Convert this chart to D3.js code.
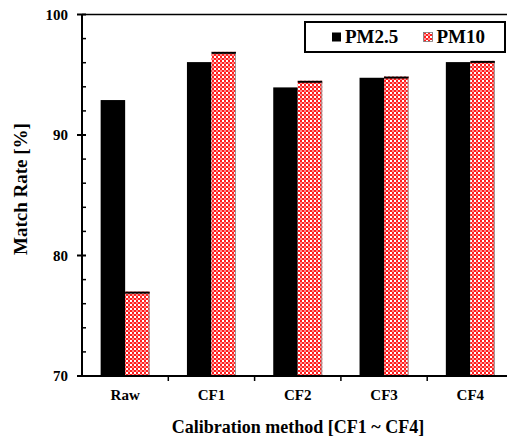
<!DOCTYPE html>
<html lang="en">
<head>
<meta charset="utf-8">
<title>Match Rate by Calibration method</title>
<script src="https://d3js.org/d3.v7.min.js"></script>
<style>
  body { margin: 0; background: #fff; }
  svg { display: block; }
  text { font-family: "Liberation Serif", "Times New Roman", serif; font-weight: bold; fill: #000; }
</style>
</head>
<body>
<script>
// categories and series values
var categories = ["Raw", "CF1", "CF2", "CF3", "CF4"];
var seriesNames = ["PM2.5", "PM10"];
var pm25 = [92.9, 96.05, 93.95, 94.75, 96.05];
var pm10 = [77.0, 96.9, 94.5, 94.85, 96.15];
var yMajorTicks = [70, 80, 90, 100];
var yMinorTicks = [72, 74, 76, 78, 82, 84, 86, 88, 92, 94, 96, 98];

var width = 507, height = 441;
// plot box (right edge runs past the picture, as in the original)
var plotLeft = 82, plotTop = 14.5, plotBottom = 376, plotRight = 513.5;

var svg = d3.select("body").append("svg")
    .attr("width", width)
    .attr("height", height);

// checker pattern for PM10 bars
var defs = svg.append("defs");
var pat = defs.append("pattern")
    .attr("id", "checker")
    .attr("width", 4).attr("height", 4)
    .attr("patternUnits", "userSpaceOnUse");
pat.append("rect").attr("width", 4).attr("height", 4).attr("fill", "#ff1e1e");
pat.append("rect").attr("x", 2).attr("y", 0).attr("width", 2).attr("height", 2).attr("fill", "#ffffff");
pat.append("rect").attr("x", 0).attr("y", 2).attr("width", 2).attr("height", 2).attr("fill", "#ff8c8c");

var x = d3.scaleBand().domain(categories).range([plotLeft, plotRight]).padding(0);
var y = d3.scaleLinear().domain([70, 100]).range([plotBottom, plotTop]);

var barW = x.bandwidth() * 0.284;

var data = categories.map(function(c, i) {
    return { cat: c, values: [pm25[i], pm10[i]] };
});

// bars
var groups = svg.selectAll(".cat")
    .data(data)
    .enter().append("g")
    .attr("class", "cat");

groups.each(function(d) {
    var g = d3.select(this);
    var cx = x(d.cat) + x.bandwidth() / 2;
    // PM2.5 (black)
    g.append("rect")
        .attr("x", cx - barW)
        .attr("y", y(d.values[0]))
        .attr("width", barW)
        .attr("height", y(70) - y(d.values[0]))
        .attr("fill", "#000");
    // PM10 (checker)
    g.append("rect")
        .attr("x", cx)
        .attr("y", y(d.values[1]))
        .attr("width", barW)
        .attr("height", y(70) - y(d.values[1]))
        .attr("fill", "url(#checker)");
    // dark top edge of PM10 bar
    g.append("line")
        .attr("x1", cx).attr("x2", cx + barW)
        .attr("y1", y(d.values[1]) + 1).attr("y2", y(d.values[1]) + 1)
        .attr("stroke", "#000").attr("stroke-width", 2);
    // grey right edge
    g.append("line")
        .attr("x1", cx + barW - 0.5).attr("x2", cx + barW - 0.5)
        .attr("y1", y(d.values[1]) + 2).attr("y2", y(70))
        .attr("stroke", "#999").attr("stroke-width", 1);
});

// frame: top line, left axis, bottom axis
svg.append("line")
    .attr("x1", plotLeft).attr("x2", plotRight)
    .attr("y1", plotTop).attr("y2", plotTop)
    .attr("stroke", "#000").attr("stroke-width", 1.5);
svg.append("line")
    .attr("x1", plotLeft).attr("x2", plotLeft)
    .attr("y1", plotTop).attr("y2", plotBottom)
    .attr("stroke", "#000").attr("stroke-width", 2);
svg.append("line")
    .attr("x1", plotLeft).attr("x2", plotRight)
    .attr("y1", plotBottom).attr("y2", plotBottom)
    .attr("stroke", "#000").attr("stroke-width", 2);

// y ticks: major cross the axis, minor point inward
svg.selectAll(".ymaj")
    .data(yMajorTicks)
    .enter().append("line")
    .attr("x1", plotLeft - 5).attr("x2", plotLeft + 4)
    .attr("y1", function(d) { return y(d); })
    .attr("y2", function(d) { return y(d); })
    .attr("stroke", "#000").attr("stroke-width", 2);
svg.selectAll(".ymin")
    .data(yMinorTicks)
    .enter().append("line")
    .attr("x1", plotLeft).attr("x2", plotLeft + 4)
    .attr("y1", function(d) { return y(d); })
    .attr("y2", function(d) { return y(d); })
    .attr("stroke", "#000").attr("stroke-width", 1.5);
svg.selectAll(".ylab")
    .data(yMajorTicks)
    .enter().append("text")
    .attr("x", plotLeft - 14)
    .attr("y", function(d) { return y(d); })
    .attr("dy", "0.35em")
    .attr("text-anchor", "end")
    .attr("font-size", 15)
    .text(function(d) { return d; });

// x ticks at category boundaries
svg.selectAll(".xtick")
    .data(categories.slice(1))
    .enter().append("line")
    .attr("x1", function(d) { return x(d); })
    .attr("x2", function(d) { return x(d); })
    .attr("y1", plotBottom).attr("y2", plotBottom + 5)
    .attr("stroke", "#000").attr("stroke-width", 1.5);
svg.selectAll(".xlab")
    .data(categories)
    .enter().append("text")
    .attr("x", function(d) { return x(d) + x.bandwidth() / 2; })
    .attr("y", 400)
    .attr("text-anchor", "middle")
    .attr("font-size", 15)
    .text(function(d) { return d; });

// axis titles
svg.append("text")
    .attr("x", 298)
    .attr("y", 433)
    .attr("text-anchor", "middle")
    .attr("font-size", 18)
    .text("Calibration method [CF1 ~ CF4]");
svg.append("text")
    .attr("transform", "translate(27,189) rotate(-90)")
    .attr("text-anchor", "middle")
    .attr("font-size", 19)
    .text("Match Rate [%]");

// legend
var legend = svg.append("g");
legend.append("rect")
    .attr("x", 305).attr("y", 22)
    .attr("width", 200).attr("height", 30)
    .attr("fill", "#fff").attr("stroke", "#000").attr("stroke-width", 2);
var legX = [332, 423.5];
var legFill = ["#000", "url(#checker)"];
seriesNames.forEach(function(s, i) {
    legend.append("rect")
        .attr("x", legX[i]).attr("y", 32.5)
        .attr("width", 9).attr("height", 9)
        .attr("fill", legFill[i])
        .attr("stroke", i === 1 ? "#777" : "none")
        .attr("stroke-width", 0.8);
    legend.append("text")
        .attr("x", legX[i] + 13)
        .attr("y", 42.5)
        .attr("font-size", 19)
        .text(s);
});
</script>
</body>
</html>
